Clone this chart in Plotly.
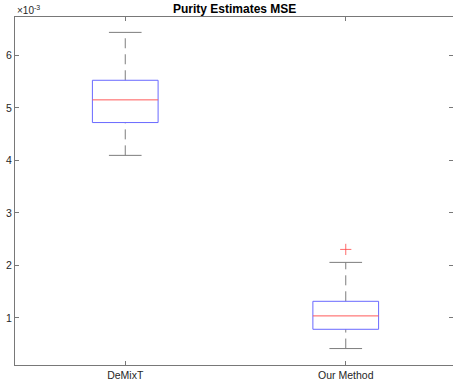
import plotly.graph_objects as go

# ---- data (values in real units) ----
categories = ["DeMixT", "Our Method"]
lower_whisker = [4.095e-3, 0.416e-3]
q1 = [4.72e-3, 0.783e-3]
median = [5.152e-3, 1.038e-3]
q3 = [5.525e-3, 1.316e-3]
upper_whisker = [6.437e-3, 2.057e-3]
outliers = [[], [2.304e-3]]
ytick_vals = [1e-3, 2e-3, 3e-3, 4e-3, 5e-3, 6e-3]
ytick_text = ["1", "2", "3", "4", "5", "6"]

positions = [1, 2]
box_half = 0.149
cap_half = 0.074

fig = go.Figure()

whisk_color = "rgb(125,125,125)"
box_color = "rgb(105,105,255)"
med_color = "rgb(255,90,90)"

for i, c in enumerate(positions):
    fig.add_trace(go.Scatter(x=[c, c], y=[q3[i], upper_whisker[i]], mode="lines",
                             line=dict(color=whisk_color, width=1, dash="10px,6px"),
                             hoverinfo="skip", showlegend=False))
    fig.add_trace(go.Scatter(x=[c, c], y=[lower_whisker[i], q1[i]], mode="lines",
                             line=dict(color=whisk_color, width=1, dash="10px,6px"),
                             hoverinfo="skip", showlegend=False))
    fig.add_trace(go.Scatter(x=[c - cap_half, c + cap_half, None, c - cap_half, c + cap_half],
                             y=[upper_whisker[i], upper_whisker[i], None, lower_whisker[i], lower_whisker[i]],
                             mode="lines", line=dict(color=whisk_color, width=1),
                             hoverinfo="skip", showlegend=False))
    fig.add_trace(go.Scatter(x=[c - box_half, c + box_half, c + box_half, c - box_half, c - box_half],
                             y=[q1[i], q1[i], q3[i], q3[i], q1[i]],
                             mode="lines", line=dict(color=box_color, width=1),
                             hoverinfo="skip", showlegend=False))
    fig.add_trace(go.Scatter(x=[c - box_half, c + box_half], y=[median[i], median[i]],
                             mode="lines", line=dict(color=med_color, width=1),
                             hoverinfo="skip", showlegend=False))
    if outliers[i]:
        fig.add_trace(go.Scatter(x=[c] * len(outliers[i]), y=outliers[i], mode="markers",
                                 marker=dict(symbol="cross-thin", size=8,
                                             line=dict(color="rgb(255,70,70)", width=0.8)),
                                 hoverinfo="skip", showlegend=False))

axis_color = "rgb(120,120,120)"
tick_font = dict(family="Liberation Sans, Arial, sans-serif", size=10.5, color="#262626")

fig.update_layout(
    width=453, height=386,
    margin=dict(l=15, r=0, t=17, b=21),
    plot_bgcolor="white", paper_bgcolor="white",
    xaxis=dict(range=[0.5, 2.4864], tickvals=positions, ticktext=categories,
               showgrid=False, zeroline=False, showline=True, linecolor=axis_color, linewidth=1,
               mirror="ticks", ticks="inside", ticklen=4, tickcolor=axis_color, tickwidth=1,
               tickfont=tick_font),
    yaxis=dict(range=[0.103e-3, 6.73e-3], tickvals=ytick_vals, ticktext=ytick_text,
               showgrid=False, zeroline=False, showline=True, linecolor=axis_color, linewidth=1,
               mirror=False, ticks="inside", ticklen=4, tickcolor=axis_color, tickwidth=1,
               tickfont=tick_font),
    yaxis2=dict(overlaying="y", side="right", matches="y", range=[0.103e-3, 6.73e-3],
                tickvals=ytick_vals, showticklabels=False, showgrid=False, zeroline=False,
                showline=False, ticks="inside", ticklen=4, tickcolor=axis_color, tickwidth=1),
    annotations=[
        dict(text="<b>Purity Estimates MSE</b>", xref="paper", yref="paper", x=0.5, y=1,
             xanchor="center", yanchor="bottom", yshift=-1, showarrow=False,
             font=dict(family="Liberation Sans, Arial, sans-serif", size=12, color="black")),
        dict(text="×10<sup>-3</sup>", xref="paper", yref="paper", x=0, y=1,
             xanchor="left", yanchor="bottom", yshift=-1, showarrow=False,
             font=dict(family="Liberation Sans, Arial, sans-serif", size=10, color="#262626")),
    ],
)
# dummy invisible trace to activate the right axis
fig.add_trace(go.Scatter(x=[1], y=[median[0]], yaxis="y2", mode="markers",
                         marker=dict(opacity=0), hoverinfo="skip", showlegend=False))

fig.write_html("out.html")
